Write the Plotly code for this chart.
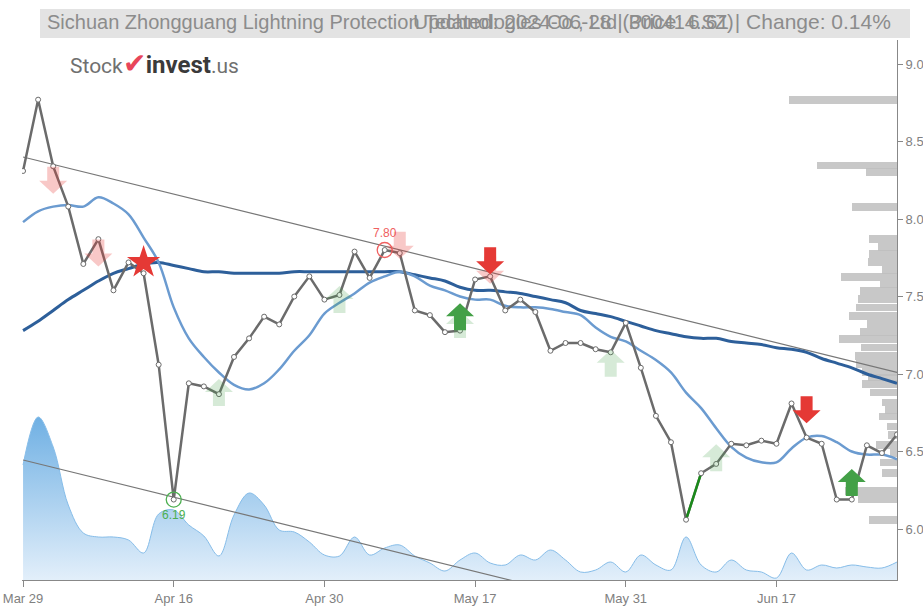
import plotly.graph_objects as go

# ---------------- data ----------------
tick_idx = [0, 10, 20, 30, 40, 50]
tick_labels = ["Mar 29", "Apr 16", "Apr 30", "May 17", "May 31", "Jun 17"]

price = [8.31, 8.77, 8.34, 8.08, 7.71, 7.87, 7.54, 7.72, 7.65, 7.06,
         6.19, 6.94, 6.92, 6.87, 7.11, 7.23, 7.37, 7.32, 7.50, 7.63,
         7.48, 7.51, 7.79, 7.62, 7.80, 7.78, 7.41, 7.38, 7.27, 7.28,
         7.61, 7.63, 7.41, 7.48, 7.40, 7.15, 7.20, 7.20, 7.16, 7.14,
         7.33, 7.04, 6.73, 6.56, 6.06, 6.36, 6.42, 6.55, 6.54, 6.57,
         6.55, 6.81, 6.59, 6.55, 6.19, 6.19, 6.54, 6.49, 6.61]

ma_short = [7.98, 8.05, 8.08, 8.09, 8.08, 8.14, 8.10, 8.03, 7.88, 7.72,
            7.43, 7.23, 7.11, 7.01, 6.93, 6.90, 6.94, 7.03, 7.15, 7.25,
            7.39, 7.46, 7.52, 7.59, 7.63, 7.66, 7.63, 7.57, 7.54, 7.50,
            7.48, 7.48, 7.44, 7.43, 7.43, 7.42, 7.40, 7.38, 7.30, 7.24,
            7.21, 7.15, 7.09, 7.01, 6.88, 6.78, 6.65, 6.53, 6.46, 6.43,
            6.43, 6.52, 6.59, 6.60, 6.56, 6.50, 6.48, 6.48, 6.45]

ma_long = [7.28, 7.34, 7.41, 7.48, 7.54, 7.60, 7.65, 7.68, 7.71, 7.72,
           7.70, 7.68, 7.66, 7.66, 7.65, 7.65, 7.65, 7.65, 7.66, 7.66,
           7.66, 7.66, 7.66, 7.66, 7.66, 7.66, 7.64, 7.62, 7.60, 7.56,
           7.54, 7.54, 7.53, 7.52, 7.50, 7.48, 7.46, 7.41, 7.39, 7.37,
           7.34, 7.31, 7.28, 7.26, 7.24, 7.23, 7.23, 7.21, 7.20, 7.19,
           7.17, 7.16, 7.14, 7.10, 7.07, 7.04, 7.00, 6.97, 6.94]

volume = [11.5, 16.3, 13.3, 7.5, 4.7, 4.3, 4.3, 4.0, 2.7, 6.6,
          7.0, 5.5, 4.4, 2.4, 6.5, 8.7, 7.5, 5.0, 4.8, 3.8,
          2.5, 2.4, 4.3, 2.5, 3.2, 3.5, 2.4, 1.7, 0.9, 2.0,
          2.7, 1.7, 1.5, 2.5, 2.0, 3.0, 2.0, 0.8, 1.0, 1.8,
          0.8, 2.5, 1.5, 1.0, 4.3, 1.5, 0.8, 2.0, 1.0, 0.8,
          0.2, 2.7, 1.0, 1.5, 1.2, 1.5, 1.3, 1.2, 1.8]

profile_price = [8.766, 8.346, 8.305, 8.076, 7.869, 7.821, 7.773, 7.721, 7.671, 7.624,
                 7.577, 7.534, 7.483, 7.429, 7.375, 7.321, 7.273, 7.225, 7.171, 7.117,
                 7.063, 7.015, 6.977, 6.934, 6.881, 6.817, 6.768, 6.726, 6.661, 6.606,
                 6.542, 6.488, 6.429, 6.359, 6.245, 6.194, 6.058]
profile_volume = [108, 80, 31, 45, 28, 19, 28, 29, 15, 56,
                  17, 37, 39, 41, 48, 30, 37, 58, 36, 42,
                  41, 35, 29, 35, 27, 15, 12, 18, 10, 9,
                  21, 7, 17, 15, 52, 39, 28]

# trend channel end points (index, price)
upper_trend = [(0, 8.40), (58, 7.01)]
lower_trend = [(0, 6.445), (58, 5.055)]

# signals: (index, price level)
sell_strong = [(31, 7.73), (52, 6.77)]
sell_weak = [(2, 8.25), (5, 7.78), (25, 7.83), (31, 7.67)]
buy_strong = [(29, 7.37), (55, 6.30)]
buy_weak = [(13, 6.88), (21, 7.48), (39, 7.07), (46, 6.46), (29, 7.32)]
star_signal = [(8, 7.72)]
high_mark = (24, 7.80)
low_mark = (10, 6.19)
green_seg = [44, 45]

title_left = "Sichuan Zhongguang Lightning Protection Technologies Co., Ltd (300414.SZ)"
title_right = "Updated: 2024-06-28 | Price: 6.61 | Change: 0.14%"

# ---------------- layout constants ----------------
W, H = 923, 610
ML, MR, MT, MB = 22, 26, 40, 30
PW, PH = W - ML - MR, H - MT - MB
X0, X1 = -0.07, 58.0
Y0, Y1 = 5.671, 9.155
PX_IDX = PW / (X1 - X0)
PX_UNIT = PH / (Y1 - Y0)
VOL_MAX_AXIS = 54.0

RED = "#e53935"
GREEN = "#43a047"
GRAY = "#6b6b6b"

n = len(price)
idx = list(range(n))

fig = go.Figure()

# volume area (base subplot)
fig.add_trace(go.Scatter(
    x=idx, y=volume, xaxis="x", yaxis="y", mode="lines",
    line=dict(color="#86bde9", width=1, shape="spline", smoothing=1.0),
    fill="tozeroy",
    fillgradient=dict(type="vertical", start=0, stop=max(volume),
                      colorscale=[[0, "rgba(225,238,250,0.95)"], [1, "rgba(104,172,226,0.95)"]]),
    hoverinfo="skip", showlegend=False))

# volume profile (horizontal bars from right edge)
prof_max_width_idx = 108 / PX_IDX
pmax = max(profile_volume)
fig.add_trace(go.Bar(
    y=profile_price, x=[-v / pmax * prof_max_width_idx for v in profile_volume],
    base=[X1] * len(profile_volume), orientation="h",
    width=0.05, marker=dict(color="rgba(190,190,190,0.85)", line=dict(width=0)),
    xaxis="x", yaxis="y2", hoverinfo="skip", showlegend=False))

# trend lines
for tl in (upper_trend, lower_trend):
    fig.add_trace(go.Scatter(
        x=[p[0] for p in tl], y=[p[1] for p in tl], xaxis="x", yaxis="y2",
        mode="lines", line=dict(color="#777777", width=1.2),
        hoverinfo="skip", showlegend=False))

# moving averages
fig.add_trace(go.Scatter(x=idx, y=ma_long, xaxis="x", yaxis="y2", mode="lines",
                         line=dict(color="#2d5f9a", width=3, shape="spline"),
                         hoverinfo="skip", showlegend=False))
fig.add_trace(go.Scatter(x=idx, y=ma_short, xaxis="x", yaxis="y2", mode="lines",
                         line=dict(color="#6b9bd0", width=2.5, shape="spline"),
                         hoverinfo="skip", showlegend=False))

# price line
fig.add_trace(go.Scatter(x=idx, y=price, xaxis="x", yaxis="y2", mode="lines",
                         line=dict(color=GRAY, width=2.5),
                         hoverinfo="skip", showlegend=False))
fig.add_trace(go.Scatter(x=green_seg, y=[price[i] for i in green_seg], xaxis="x", yaxis="y2",
                         mode="lines", line=dict(color="#1b8a1b", width=2.5),
                         hoverinfo="skip", showlegend=False))
fig.add_trace(go.Scatter(x=idx, y=price, xaxis="x", yaxis="y2", mode="markers",
                         marker=dict(size=5, color="white", line=dict(color=GRAY, width=1)),
                         hoverinfo="skip", showlegend=False))


# arrows as shapes
def arrow_path(i, yc, up):
    hw, hh, sw, sh = 14, 13, 6, 14
    t = (hh + sh) / 2.0
    s = 1 if up else -1
    pts = [(0, t), (hw, t - hh), (sw, t - hh), (sw, -t), (-sw, -t), (-sw, t - hh), (-hw, t - hh)]
    path = ""
    for k, (px, py) in enumerate(pts):
        xx = i + px / PX_IDX
        yy = yc + s * py / PX_UNIT
        path += ("M" if k == 0 else "L") + f"{xx:.4f},{yy:.4f} "
    return path + "Z"


shapes = []
for (i, yv) in sell_weak:
    shapes.append(dict(type="path", path=arrow_path(i, yv, False), xref="x", yref="y2",
                       fillcolor="rgba(229,57,53,0.28)", line=dict(width=0), layer="above"))
for (i, yv) in buy_weak:
    shapes.append(dict(type="path", path=arrow_path(i, yv, True), xref="x", yref="y2",
                       fillcolor="rgba(67,160,71,0.22)", line=dict(width=0), layer="above"))
for (i, yv) in sell_strong:
    shapes.append(dict(type="path", path=arrow_path(i, yv, False), xref="x", yref="y2",
                       fillcolor=RED, line=dict(width=0), layer="above"))
for (i, yv) in buy_strong:
    shapes.append(dict(type="path", path=arrow_path(i, yv, True), xref="x", yref="y2",
                       fillcolor=GREEN, line=dict(width=0), layer="above"))

# title bar
shapes.append(dict(type="rect", xref="paper", yref="paper",
                   x0=(40 - ML) / PW, x1=(910 - ML) / PW,
                   y0=(H - MB - 38) / PH, y1=(H - MB - 9) / PH,
                   fillcolor="#e3e3e3", line=dict(width=0), layer="below"))

# star
fig.add_trace(go.Scatter(x=[s[0] for s in star_signal], y=[s[1] for s in star_signal],
                         xaxis="x", yaxis="y2", mode="markers",
                         marker=dict(symbol="star", size=25, color=RED, line=dict(width=0)),
                         hoverinfo="skip", showlegend=False))

# high / low marks
fig.add_trace(go.Scatter(x=[high_mark[0]], y=[high_mark[1]], xaxis="x", yaxis="y2",
                         mode="markers+text", text=[f"{high_mark[1]:.2f}"],
                         textposition="top center",
                         textfont=dict(color="#f06060", size=12, family="Liberation Sans"),
                         marker=dict(symbol="circle-open", size=15, color="#f06060", line=dict(width=1.3)),
                         hoverinfo="skip", showlegend=False))
fig.add_trace(go.Scatter(x=[low_mark[0]], y=[low_mark[1]], xaxis="x", yaxis="y2",
                         mode="markers+text", text=[f"{low_mark[1]:.2f}"],
                         textposition="bottom center",
                         textfont=dict(color="#4caf50", size=12, family="Liberation Sans"),
                         marker=dict(symbol="circle-open", size=15, color="#4caf50", line=dict(width=1.3)),
                         hoverinfo="skip", showlegend=False))

annotations = [
    dict(xref="paper", yref="paper", x=(45 - ML) / PW, y=(H - MB - 22) / PH,
         xanchor="left", yanchor="middle", showarrow=False, text=title_left,
         font=dict(family="Liberation Sans", size=20, color="#8c8c8c")),
    dict(xref="paper", yref="paper", x=(893 - ML) / PW, y=(H - MB - 22) / PH,
         xanchor="right", yanchor="middle", showarrow=False, text=title_right,
         font=dict(family="Liberation Sans", size=21, color="#8c8c8c")),
    dict(xref="paper", yref="paper", x=(68 - ML) / PW, y=(H - MB - 64) / PH,
         xanchor="left", yanchor="middle", showarrow=False,
         text="<span style='color:#707070'>Stock</span>"
              "<span style='color:#e8455a;font-size:28px'>✔</span>"
              "<b><span style='color:#3a3a3a;font-size:24px'>invest</span></b>"
              "<span style='color:#707070'>.us</span>",
         font=dict(family="Roboto", size=21, color="#707070")),
]

fig.update_layout(
    width=W, height=H,
    margin=dict(l=ML, r=MR, t=MT, b=MB, autoexpand=False),
    paper_bgcolor="white", plot_bgcolor="white",
    showlegend=False, bargap=0,
    shapes=shapes, annotations=annotations,
    xaxis=dict(range=[X0, X1], tickmode="array", tickvals=tick_idx, ticktext=tick_labels,
               automargin=False,
               showgrid=False, zeroline=False, showline=True, linecolor="#888888", linewidth=1,
               ticks="outside", ticklen=6, tickcolor="#888888",
               tickfont=dict(family="Liberation Sans", size=13, color="#808080")),
    yaxis=dict(range=[0, VOL_MAX_AXIS], visible=False, fixedrange=True, automargin=False),
    yaxis2=dict(range=[Y0, Y1], overlaying="y", side="right", anchor="x",
                automargin=False,
                tickmode="array", tickvals=[6.0, 6.5, 7.0, 7.5, 8.0, 8.5, 9.0],
                tickformat=".1f", showgrid=False, zeroline=False,
                showline=True, linecolor="#888888", linewidth=1,
                ticks="outside", ticklen=5, tickcolor="#888888",
                tickfont=dict(family="Liberation Sans", size=13, color="#808080")),
)

fig.write_html(
    "out.html",
    config={"displayModeBar": False},
    post_script="document.body.style.margin='0px';document.body.style.padding='0px';"
                "document.body.style.overflow='hidden';",
)
